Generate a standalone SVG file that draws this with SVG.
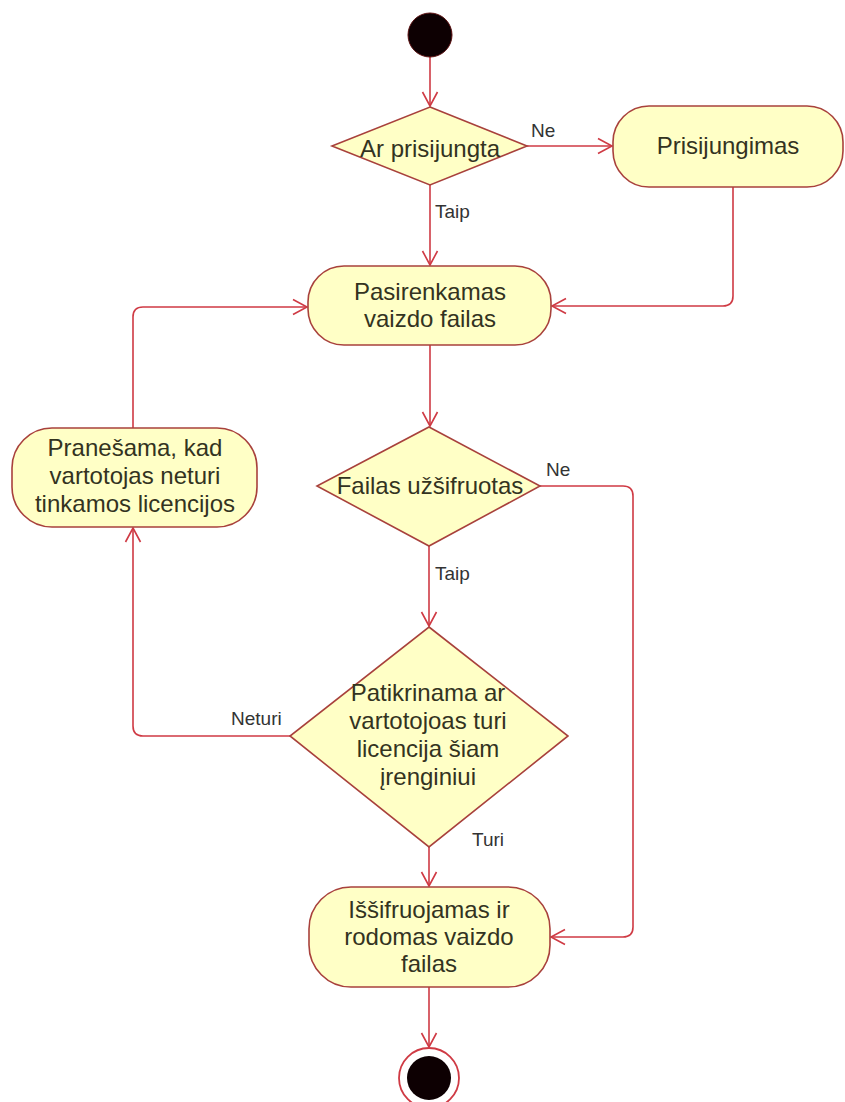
<svg xmlns="http://www.w3.org/2000/svg" width="845" height="1102" viewBox="0 0 845 1102">
<defs>
<style>
.node{fill:#ffffc6;stroke:#a8413c;stroke-width:1.6}
.t{font-family:"Liberation Sans",Arial,sans-serif;font-size:24px;fill:#33331f;text-anchor:middle}
.lbl{font-family:"Liberation Sans",Arial,sans-serif;font-size:19px;fill:#333}
.edge{fill:none;stroke:#cf3a44;stroke-width:1.6}
</style>
<marker id="arr" viewBox="-15 -9 17 18" refX="0" refY="0" markerWidth="17" markerHeight="18" orient="auto" markerUnits="userSpaceOnUse">
<path d="M-14,-7.5 L0,0 L-14,7.5" fill="none" stroke="#cf3a44" stroke-width="1.6"/>
</marker>
</defs>
<rect width="845" height="1102" fill="#fff"/>

<g id="connectors">
<path class="edge" d="M430,57 L430,106" marker-end="url(#arr)"/>
<path class="edge" d="M527,146 L612,146" marker-end="url(#arr)"/>
<path class="edge" d="M430,185 L430,265" marker-end="url(#arr)"/>
<path class="edge" d="M733,187 L733,296 Q733,306 723,306 L552,306" marker-end="url(#arr)"/>
<path class="edge" d="M430,345 L430,426" marker-end="url(#arr)"/>
<path class="edge" d="M540,486 L623,486 Q633,486 633,496 L633,927 Q633,937 623,937 L551,937" marker-end="url(#arr)"/>
<path class="edge" d="M429,546 L429,626" marker-end="url(#arr)"/>
<path class="edge" d="M290,736 L143,736 Q133,736 133,726 L133,528" marker-end="url(#arr)"/>
<path class="edge" d="M133,428 L133,317 Q133,307 143,307 L307,307" marker-end="url(#arr)"/>
<path class="edge" d="M429,847 L429,886" marker-end="url(#arr)"/>
<path class="edge" d="M429,987 L429,1047" marker-end="url(#arr)"/>
<text class="lbl" x="531" y="137">Ne</text>
<text class="lbl" x="435" y="218">Taip</text>
<text class="lbl" x="546" y="476">Ne</text>
<text class="lbl" x="435" y="580">Taip</text>
<text class="lbl" x="231" y="725">Neturi</text>
<text class="lbl" x="472" y="846">Turi</text>
</g>

<g id="start">
<circle cx="430" cy="35" r="22" fill="#0d0002" stroke="#5a0f10" stroke-width="1"/>
</g>

<g id="d_prisijungta">
<polygon class="node" points="430,107 527,146 430,185 332,146"/>
<text class="t" x="430" y="157">Ar prisijungta</text>
</g>

<g id="prisijungimas">
<rect class="node" x="613" y="106" width="230" height="81" rx="36" ry="36"/>
<text class="t" x="728" y="154">Prisijungimas</text>
</g>

<g id="pasirenkamas">
<rect class="node" x="308" y="266" width="243" height="79" rx="36" ry="36"/>
<text class="t" x="430" y="300">Pasirenkamas</text>
<text class="t" x="430" y="327">vaizdo failas</text>
</g>

<g id="d_uzsifruotas">
<polygon class="node" points="429,427 540,486 429,546 317,486"/>
<text class="t" x="430" y="494">Failas užšifruotas</text>
</g>

<g id="pranesama">
<rect class="node" x="12" y="428" width="245" height="99" rx="40" ry="40"/>
<text class="t" x="135" y="456">Pranešama, kad</text>
<text class="t" x="135" y="484">vartotojas neturi</text>
<text class="t" x="135" y="512">tinkamos licencijos</text>
</g>

<g id="d_licencija">
<polygon class="node" points="429,627 568,736 429,847 290,736"/>
<text class="t" x="428" y="701">Patikrinama ar</text>
<text class="t" x="428" y="729">vartotojoas turi</text>
<text class="t" x="428" y="757">licencija šiam</text>
<text class="t" x="428" y="785">įrenginiui</text>
</g>

<g id="issifruojamas">
<rect class="node" x="309" y="887" width="241" height="100" rx="42" ry="42"/>
<text class="t" x="429" y="918">Iššifruojamas ir</text>
<text class="t" x="429" y="945">rodomas vaizdo</text>
<text class="t" x="429" y="972">failas</text>
</g>

<g id="end">
<circle cx="429" cy="1078" r="30" fill="#fff" stroke="#cf3a44" stroke-width="1.8"/>
<circle cx="429" cy="1078" r="22" fill="#0d0002"/>
</g>
</svg>
